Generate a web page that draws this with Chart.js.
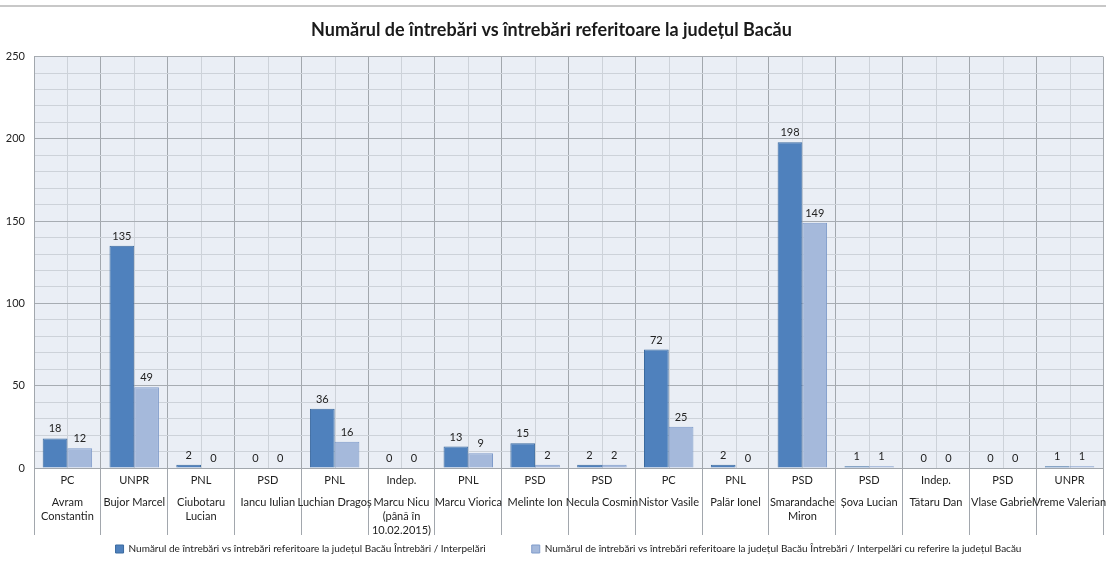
<!DOCTYPE html>
<html>
<head>
<meta charset="utf-8">
<script src="https://cdn.jsdelivr.net/npm/chart.js@4.4.0/dist/chart.umd.min.js"></script>
<style>
  body { margin: 0; background: #fff; }
  #wrap { position: relative; width: 1106px; height: 564px; }
  #linie { position: absolute; left: 0; top: 5px; width: 1106px; height: 2px; background: #c8c8c8; }
  canvas { position: absolute; left: 0; top: 0; }
</style>
</head>
<body>
<div id="wrap">
  <div id="linie"></div>
  <canvas id="grafic" width="1106" height="564"></canvas>
</div>
<script>
const titlu = "Numărul de întrebări vs întrebări referitoare la județul Bacău";

const partide = ["PC", "UNPR", "PNL", "PSD", "PNL", "Indep.", "PNL", "PSD",
  "PSD", "PC", "PNL", "PSD", "PSD", "Indep.", "PSD", "UNPR"];

const nume = [
  ["Avram", "Constantin"],
  ["Bujor Marcel"],
  ["Ciubotaru", "Lucian"],
  ["Iancu Iulian"],
  ["Luchian Dragoș"],
  ["Marcu Nicu", "(până în", "10.02.2015)"],
  ["Marcu Viorica"],
  ["Melinte Ion"],
  ["Necula Cosmin"],
  ["Nistor Vasile"],
  ["Palăr Ionel"],
  ["Smarandache", "Miron"],
  ["Șova Lucian"],
  ["Tătaru Dan"],
  ["Vlase Gabriel"],
  ["Vreme Valerian"]
];

const intrebari = [18, 135, 2, 0, 36, 0, 13, 15, 2, 72, 2, 198, 1, 0, 0, 1];
const referireBacau = [12, 49, 0, 0, 16, 0, 9, 2, 2, 25, 0, 149, 1, 0, 0, 1];

const serie1 = "Numărul de întrebări vs întrebări referitoare la județul Bacău Întrebări / Interpelări";
const serie2 = "Numărul de întrebări vs întrebări referitoare la județul Bacău Întrebări / Interpelări cu referire la județul Bacău";

const font = "Lato, 'Open Sans', sans-serif";

// fundal gri-albastru + liniile verticale din mijlocul fiecarei categorii
const fundal = {
  id: "fundal",
  beforeDraw(chart) {
    const { ctx, chartArea: a } = chart;
    const x = chart.scales.x;
    ctx.save();
    ctx.fillStyle = "#eaeef5";
    ctx.fillRect(a.left, a.top, a.right - a.left, a.bottom - a.top);
    ctx.strokeStyle = "#cdd2d9";
    ctx.lineWidth = 1;
    for (let i = 0; i < partide.length; i++) {
      const px = Math.round(x.getPixelForValue(i)) + 0.5;
      ctx.beginPath();
      ctx.moveTo(px, a.top);
      ctx.lineTo(px, a.bottom);
      ctx.stroke();
    }
    ctx.restore();
  }
};

// valorile deasupra barelor
const valori = {
  id: "valori",
  afterDatasetsDraw(chart) {
    const ctx = chart.ctx;
    ctx.save();
    ctx.font = "11px " + font;
    ctx.fillStyle = "#222";
    ctx.textAlign = "center";
    ctx.textBaseline = "bottom";
    chart.data.datasets.forEach((ds, di) => {
      chart.getDatasetMeta(di).data.forEach((bar, i) => {
        ctx.fillText(ds.data[i], bar.x, bar.y - 4);
      });
    });
    ctx.restore();
  }
};

// etichetele pe doua niveluri sub axa x
const etichete = {
  id: "etichete",
  afterDraw(chart) {
    const ctx = chart.ctx;
    const x = chart.scales.x;
    const jos = chart.chartArea.bottom;
    ctx.save();
    ctx.font = "11px " + font;
    ctx.fillStyle = "#222";
    ctx.textAlign = "center";
    ctx.textBaseline = "middle";
    for (let i = 0; i < partide.length; i++) {
      const px = x.getPixelForValue(i);
      ctx.fillText(partide[i], px, jos + 12);
      nume[i].forEach((linie, k) => {
        ctx.fillText(linie, px, jos + 34 + k * 14);
      });
    }
    ctx.restore();
  }
};

new Chart(document.getElementById("grafic"), {
  type: "bar",
  data: {
    labels: nume.map(n => n.join(" ")),
    datasets: [
      {
        label: serie1,
        data: intrebari,
        backgroundColor: "#4f81bd",
        borderColor: "#3b6a9f",
        borderWidth: 1
      },
      {
        label: serie2,
        data: referireBacau,
        backgroundColor: "#a5b9db",
        borderColor: "#7f9bca",
        borderWidth: 1
      }
    ]
  },
  options: {
    responsive: false,
    animation: false,
    layout: { padding: { left: 0, right: 3, top: 0, bottom: 0 } },
    datasets: {
      bar: { categoryPercentage: 0.74, barPercentage: 1.0 }
    },
    plugins: {
      title: {
        display: true,
        text: titlu,
        color: "#1a1a1a",
        font: { family: font, size: 18, weight: "bold" },
        padding: { top: 19, bottom: 16 }
      },
      legend: {
        position: "bottom",
        fullSize: false,
        labels: {
          boxWidth: 8,
          boxHeight: 8,
          padding: 46,
          color: "#222",
          font: { family: font, size: 10 }
        }
      },
      tooltip: { enabled: false }
    },
    scales: {
      x: {
        grid: {
          offset: true,
          color: "#a2a7ad",
          drawTicks: true,
          tickLength: 67
        },
        border: { color: "#a2a7ad" },
        ticks: { display: false },
        afterFit(s) { s.height = 30; }
      },
      y: {
        min: 0,
        max: 250,
        ticks: {
          stepSize: 10,
          autoSkip: false,
          padding: 9,
          color: "#222",
          font: { family: font, size: 11 },
          callback: v => (v % 50 === 0 ? v : "")
        },
        grid: {
          drawTicks: false,
          color: c => (c.tick && c.tick.value % 50 === 0 ? "#a7acb2" : "#cdd2d9")
        },
        border: { color: "#a2a7ad" },
        afterFit(s) { s.width = 34; }
      }
    }
  },
  plugins: [fundal, valori, etichete]
});
</script>
</body>
</html>
